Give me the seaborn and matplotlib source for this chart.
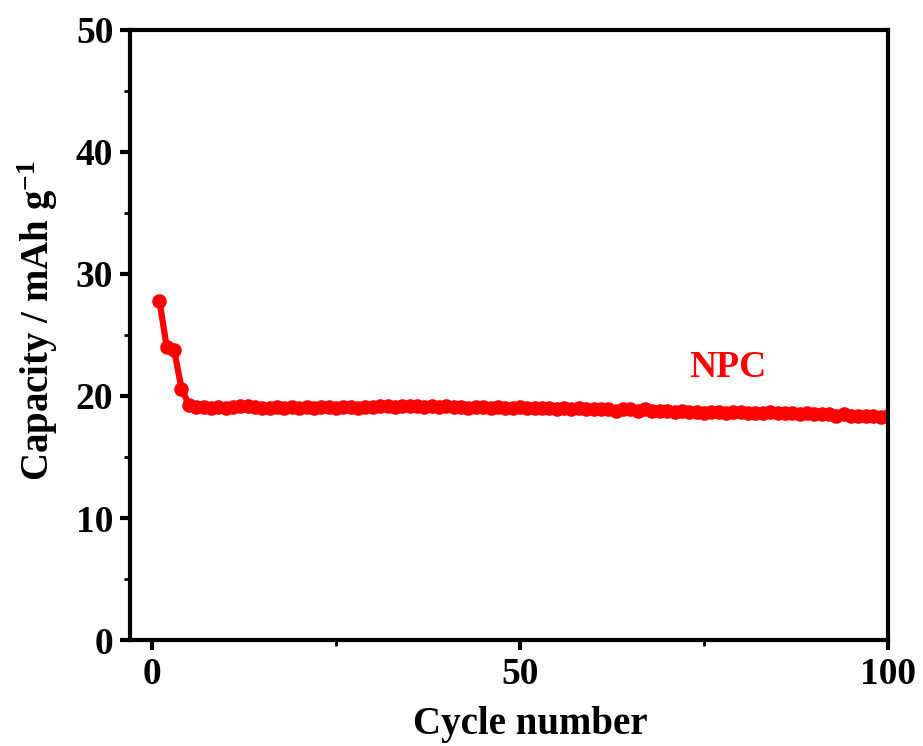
import matplotlib
matplotlib.use("Agg")
import matplotlib.pyplot as plt
import seaborn as sns
import pandas as pd
from matplotlib.ticker import MultipleLocator

cycles = list(range(1, 101))
capacity = [
    27.8, 24.0, 23.8, 20.6, 19.3, 19.1, 19.1, 19.0, 19.1, 19.0,
    19.1, 19.2, 19.2, 19.1, 19.0, 19.0, 19.1, 19.0, 19.1, 19.0,
    19.1, 19.0, 19.1, 19.1, 19.0, 19.1, 19.1, 19.0, 19.1, 19.1,
    19.2, 19.2, 19.1, 19.2, 19.2, 19.2, 19.1, 19.2, 19.1, 19.2,
    19.1, 19.1, 19.0, 19.1, 19.1, 19.0, 19.1, 19.0, 19.0, 19.1,
    19.0, 19.0, 19.0, 19.0, 18.9, 19.0, 18.9, 19.0, 18.9, 18.9,
    18.9, 18.9, 18.8, 18.9, 18.9, 18.8, 18.9, 18.8, 18.8, 18.8,
    18.7, 18.8, 18.7, 18.7, 18.6, 18.7, 18.7, 18.6, 18.7, 18.7,
    18.6, 18.6, 18.6, 18.7, 18.6, 18.6, 18.6, 18.5, 18.6, 18.5,
    18.5, 18.5, 18.4, 18.5, 18.4, 18.4, 18.4, 18.4, 18.3, 18.4,
]
label_text = "NPC"

df = pd.DataFrame({"Cycle": cycles, "Capacity": capacity})

sns.set_style("ticks")
plt.rcParams["font.family"] = ["Liberation Serif", "DejaVu Serif"]
plt.rcParams["font.weight"] = "bold"
plt.rcParams["text.color"] = "black"
plt.rcParams["axes.labelcolor"] = "black"
plt.rcParams["xtick.color"] = "black"
plt.rcParams["ytick.color"] = "black"
plt.rcParams["mathtext.fontset"] = "custom"
plt.rcParams["mathtext.rm"] = "Liberation Serif:bold"
plt.rcParams["mathtext.bf"] = "Liberation Serif:bold"
plt.rcParams["mathtext.it"] = "Liberation Serif:bold"

fig = plt.figure(figsize=(9.23, 7.46), dpi=100)
ax = fig.add_axes([0.1408, 0.142, 0.8212, 0.818])

sns.lineplot(data=df, x="Cycle", y="Capacity", ax=ax, color="#FF0000",
             marker="o", markersize=10.5, markeredgewidth=0, linewidth=4.5)

ax.set_xlim(-3, 100)
ax.set_ylim(0, 50)
ax.xaxis.set_major_locator(MultipleLocator(50))
ax.xaxis.set_minor_locator(MultipleLocator(25))
ax.yaxis.set_major_locator(MultipleLocator(10))
ax.yaxis.set_minor_locator(MultipleLocator(5))

for s in ax.spines.values():
    s.set_linewidth(3)
    s.set_color("black")

ax.tick_params(which="major", direction="out", length=7, width=3,
               labelsize=27, top=False, right=False, pad=5)
ax.tick_params(which="minor", direction="out", length=4, width=2,
               top=False, right=False)
for lab in ax.get_xticklabels() + ax.get_yticklabels():
    lab.set_fontweight("bold")

ax.set_xlabel("Cycle number", fontsize=28, fontweight="bold")
ax.set_ylabel(r"Capacity / mAh g$^{\mathbf{-1}}$", fontsize=28,
              fontweight="bold")
ax.xaxis.set_label_coords(0.528, -0.108)
ax.yaxis.set_label_coords(-0.092, 0.523)

ax.text(78.3, 22.3, label_text, color="#FF0000", fontsize=27,
        fontweight="bold", ha="center", va="center")

fig.savefig("out.png", dpi=100)
